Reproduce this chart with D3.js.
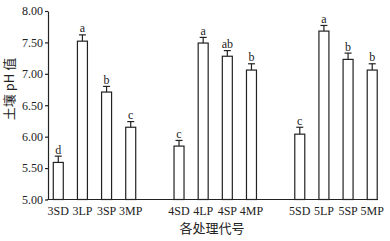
<!DOCTYPE html>
<html><head><meta charset="utf-8">
<script src="https://cdn.jsdelivr.net/npm/d3@7"></script>
<style>
html,body{margin:0;padding:0;background:#fff;}
svg text{font-family:"Liberation Serif","DejaVu Serif",serif;fill:#222;}
</style></head>
<body><div id="chart"></div>
<script>
const categories = ["3SD","3LP","3SP","3MP","4SD","4LP","4SP","4MP","5SD","5LP","5SP","5MP"];
const slots = ["3SD","3LP","3SP","3MP","gap1","4SD","4LP","4SP","4MP","gap2","5SD","5LP","5SP","5MP"];
const values = [5.59,7.52,6.71,6.15,5.85,7.49,7.28,7.06,6.04,7.68,7.23,7.06];
const errors = [0.10,0.10,0.09,0.09,0.09,0.09,0.09,0.10,0.11,0.09,0.10,0.10];
const letters = ["d","a","b","c","c","a","ab","b","c","a","b","b"];
const yTicks = [5.00,5.50,6.00,6.50,7.00,7.50,8.00];
const yTitle = "土壤 pH 值";
const xTitle = "各处理代号";

const W = 390, H = 241;
const svg = d3.select("#chart").append("svg").attr("width", W).attr("height", H);

const x = d3.scaleBand().domain(slots).range([46.2, 384.3]).paddingInner(0.586).paddingOuter(0.293);
const y = d3.scaleLinear().domain([5, 8]).range([199.5, 11]);
const axisLeftX = 48, axisRightX = 378;

// y axis
const ya = svg.append("g").attr("transform", `translate(${axisLeftX},0)`)
  .call(d3.axisLeft(y).tickValues(yTicks).tickFormat(d3.format(".2f")).tickSize(3).tickSizeOuter(0).tickPadding(2));
ya.select(".domain").attr("stroke", "#222").attr("stroke-width", 1.2);
ya.selectAll(".tick line").attr("stroke", "#222").attr("stroke-width", 1.2);
ya.selectAll(".tick text").attr("font-size", 12).attr("font-family", "Liberation Serif").attr("fill", "#222");

// x axis line
svg.append("line").attr("x1", axisLeftX - 0.6).attr("x2", axisRightX).attr("y1", y(5)).attr("y2", y(5))
  .attr("stroke", "#222").attr("stroke-width", 1.2);

// bars
const g = svg.append("g");
categories.forEach((c, i) => {
  const x0 = x(c), bw = x.bandwidth(), cx = x0 + bw / 2;
  g.append("rect").attr("x", x0).attr("y", y(values[i])).attr("width", bw)
    .attr("height", y(5) - y(values[i])).attr("fill", "#fff").attr("stroke", "#222").attr("stroke-width", 1.2);
  const top = y(values[i] + errors[i]);
  g.append("line").attr("x1", cx).attr("x2", cx).attr("y1", y(values[i])).attr("y2", top).attr("stroke", "#222").attr("stroke-width", 1.2);
  g.append("line").attr("x1", cx - 3.5).attr("x2", cx + 3.5).attr("y1", top).attr("y2", top).attr("stroke", "#222").attr("stroke-width", 1.2);
  g.append("text").attr("x", cx).attr("y", top - 2.5).attr("text-anchor", "middle").attr("font-size", 12).text(letters[i]);
  g.append("text").attr("x", cx).attr("y", 215).attr("text-anchor", "middle").attr("font-size", 12).text(c);
});

// titles
svg.append("text").attr("transform", `translate(13.5,89) rotate(-90)`)
  .attr("text-anchor", "middle").attr("font-size", 13)
  .style("font-family", "'Noto Sans CJK SC','Liberation Serif',serif").text(yTitle);
svg.append("text").attr("x", 212).attr("y", 233).attr("text-anchor", "middle").attr("font-size", 13)
  .style("font-family", "'Noto Sans CJK SC',sans-serif").text(xTitle);
</script></body></html>
